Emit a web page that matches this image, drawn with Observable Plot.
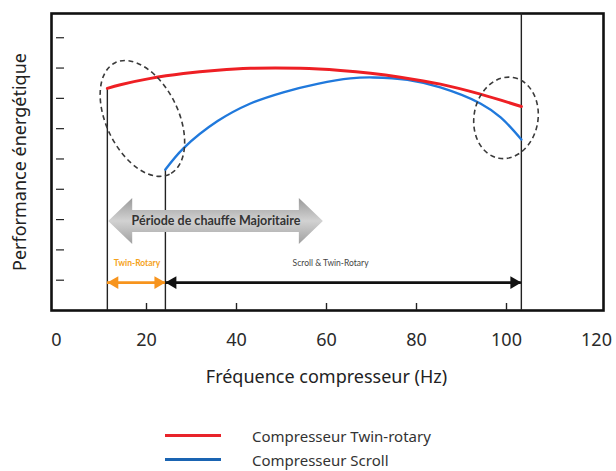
<!DOCTYPE html>
<html><head><meta charset="utf-8">
<script src="https://cdn.jsdelivr.net/npm/d3@7"></script>
<script src="https://cdn.jsdelivr.net/npm/@observablehq/plot@0.6"></script>
<style>
body{margin:0;background:#fff;font-family:"Noto Sans",sans-serif;}
#wrap{position:relative;width:616px;height:471px;overflow:hidden;}
.lg-line{position:absolute;height:3px;width:56px;left:165px;}
.lg-text{position:absolute;left:252px;font-size:15px;line-height:20px;color:#333;white-space:nowrap;}
</style></head>
<body><div id="wrap"><div id="chart"></div></div>
<script>
// ---- data ----
const seriesNames = ["Compresseur Twin-rotary", "Compresseur Scroll"];
const seriesColors = ["#ee1f24", "#2079dc"];
const legendColors = ["#e8232a", "#1a64b2"];

const redHz   = [11.3, 14.2, 20.9, 28.2, 35.8, 43.1, 54.2, 63.1, 69.8, 76.4, 85.3, 94.2, 103.3];
const redPerf = [7.33, 7.45, 7.66, 7.82, 7.93, 7.99, 7.99, 7.92, 7.83, 7.70, 7.47, 7.14, 6.73];

const blueHz   = [24.2, 28.2, 35.8, 43.1, 50.4, 58.0, 65.3, 70.4, 78.0, 85.3, 94.2, 98.7, 103.3];
const bluePerf = [4.65, 5.35, 6.25, 6.83, 7.20, 7.48, 7.66, 7.69, 7.61, 7.36, 6.83, 6.37, 5.64];

const xTickLabels = [0, 20, 40, 60, 80, 100, 120];
const xInnerTicks = [20, 40, 60, 80, 100];
const yTicks = [1, 2, 3, 4, 5, 6, 7, 8, 9];

const limitHz  = [11.3, 24.2, 103.3];
const limitTop = [7.33, 4.65, 9.8];

const periodLabel = "Période de chauffe Majoritaire";
const periodRange = [11.6, 59.3];
const periodY = 2.94;

const rangeLabels = ["Twin-Rotary", "Scroll & Twin-Rotary"];
const rangeStart = [11.3, 24.2];
const rangeEnd   = [24.2, 103.3];
const rangeLabelHz = [17.9, 60.9];
const rangeColors = ["#f7941d", "#111111"];
const rangeLabelColors = ["#f5a21b", "#444444"];
const rangeY = 0.92;
const rangeLabelY = 1.55;

const ellipseHz = [19.2, 100];
const ellipsePerf = [6.32, 6.34];

const xLabel = "Fréquence compresseur (Hz)";
const yLabel = "Performance énergétique";

// ---- build tables ----
const red = redHz.map((x, i) => ({x, y: redPerf[i]}));
const blue = blueHz.map((x, i) => ({x, y: bluePerf[i]}));
const limits = limitHz.map((x, i) => ({x, top: limitTop[i]}));
const ranges = rangeStart.map((s, i) => ({x1: s, x2: rangeEnd[i], color: rangeColors[i]}));
const leftHeads = ranges.map(r => ({x: r.x1, color: r.color}));
const rightHeads = ranges.map(r => ({x: r.x2, color: r.color}));
const ellipseStyle = [{rx: 62, ry: 36, angle: 64}, {rx: 41, ry: 32, angle: -80}];

function ellipsesMark(index, scales) {
  const g = d3.create("svg:g");
  ellipseHz.forEach((hz, i) => {
    const cx = scales.x(hz), cy = scales.y(ellipsePerf[i]);
    const s = ellipseStyle[i];
    g.append("ellipse")
      .attr("cx", cx).attr("cy", cy).attr("rx", s.rx).attr("ry", s.ry)
      .attr("transform", `rotate(${s.angle} ${cx} ${cy})`)
      .attr("fill", "none").attr("stroke", "#3a3a3a")
      .attr("stroke-width", 1.6).attr("stroke-dasharray", "5,3.5");
  });
  return g.node();
}

function periodArrowMark(index, scales) {
  const g = d3.create("svg:g");
  const defs = g.append("defs");
  const grad = defs.append("linearGradient").attr("id", "grayGrad")
    .attr("x1", 0).attr("y1", 0).attr("x2", 0).attr("y2", 1);
  grad.append("stop").attr("offset", "0%").attr("stop-color", "#999999");
  grad.append("stop").attr("offset", "50%").attr("stop-color", "#d2d2d2");
  grad.append("stop").attr("offset", "100%").attr("stop-color", "#a0a0a0");
  const L = scales.x(periodRange[0]), R = scales.x(periodRange[1]), cy = scales.y(periodY);
  const h = 24, H = 23, s = 11;
  const pts = [[L, cy], [L + h, cy - H], [L + h, cy - s], [R - h, cy - s], [R - h, cy - H], [R, cy],
               [R - h, cy + H], [R - h, cy + s], [L + h, cy + s], [L + h, cy + H]];
  g.append("polygon").attr("points", pts.map(p => p.join(",")).join(" ")).attr("fill", "url(#grayGrad)");
  return g.node();
}

const chart = Plot.plot({
  width: 616,
  height: 410,
  marginLeft: 56,
  marginRight: 20,
  marginTop: 13,
  marginBottom: 100,
  style: {fontFamily: "'Noto Sans', sans-serif", background: "#fff", color: "#222"},
  x: {domain: [0, 120], axis: null},
  y: {domain: [0, 9.8], axis: null},
  marks: [
    Plot.frame({stroke: "#111", strokeWidth: 2.6, insetLeft: -5, insetRight: -7}),
    Plot.axisY({ticks: yTicks, tickSize: -8, tickFormat: () => "", label: null, anchor: "left", stroke: "#222", strokeWidth: 1.2}),
    Plot.axisX({ticks: xInnerTicks, tickSize: -7, tickFormat: () => "", label: null, anchor: "bottom", stroke: "#222", strokeWidth: 1.4}),
    Plot.axisX({ticks: xTickLabels, tickSize: 0, tickPadding: 23, fontSize: 18, label: null, anchor: "bottom", fill: "#2a2a2a"}),
    Plot.ruleX(limits, {x: "x", y1: 0, y2: "top", stroke: "#222", strokeWidth: 1.4}),
    periodArrowMark,
    Plot.text([periodLabel], {x: (periodRange[0] + periodRange[1]) / 2, y: periodY, fontSize: 12.5, fontWeight: "bold", fontFamily: "Lato, sans-serif", fill: "#333"}),
    Plot.ruleY(ranges, {x1: "x1", x2: "x2", y: rangeY, stroke: "color", strokeWidth: 2.6}),
    Plot.dot(leftHeads, {x: "x", y: rangeY, symbol: "triangle", r: 4.7, fill: "color", stroke: null, rotate: -90, dx: 7.3}),
    Plot.dot(rightHeads, {x: "x", y: rangeY, symbol: "triangle", r: 4.7, fill: "color", stroke: null, rotate: 90, dx: -7.3}),
    Plot.text([rangeLabels[0]], {x: rangeLabelHz[0], y: rangeLabelY, fill: rangeLabelColors[0], fontSize: 8.5, fontFamily: "Lato, sans-serif", fontWeight: "bold"}),
    Plot.text([rangeLabels[1]], {x: rangeLabelHz[1], y: rangeLabelY, fill: rangeLabelColors[1], fontSize: 8.5, fontFamily: "Lato, sans-serif"}),
    Plot.line(blue, {x: "x", y: "y", stroke: seriesColors[1], strokeWidth: 2.4, curve: "catmull-rom"}),
    Plot.line(red, {x: "x", y: "y", stroke: seriesColors[0], strokeWidth: 3, curve: "catmull-rom"}),
    ellipsesMark,
    Plot.text([yLabel], {frameAnchor: "left", textAnchor: "middle", rotate: -90, dx: -36, fontSize: 18, fill: "#222"}),
    Plot.text([xLabel], {frameAnchor: "bottom", dy: 72, fontSize: 18, fill: "#222"})
  ]
});
document.getElementById("chart").appendChild(chart);

// legend
const wrap = document.getElementById("wrap");
seriesNames.forEach((name, i) => {
  const cy = i === 0 ? 435 : 459;
  const line = document.createElement("div");
  line.className = "lg-line";
  line.style.top = (cy - 1.5) + "px";
  line.style.background = legendColors[i];
  wrap.appendChild(line);
  const t = document.createElement("div");
  t.className = "lg-text";
  t.style.top = (cy - 9) + "px";
  t.textContent = name;
  wrap.appendChild(t);
});
</script></body></html>
